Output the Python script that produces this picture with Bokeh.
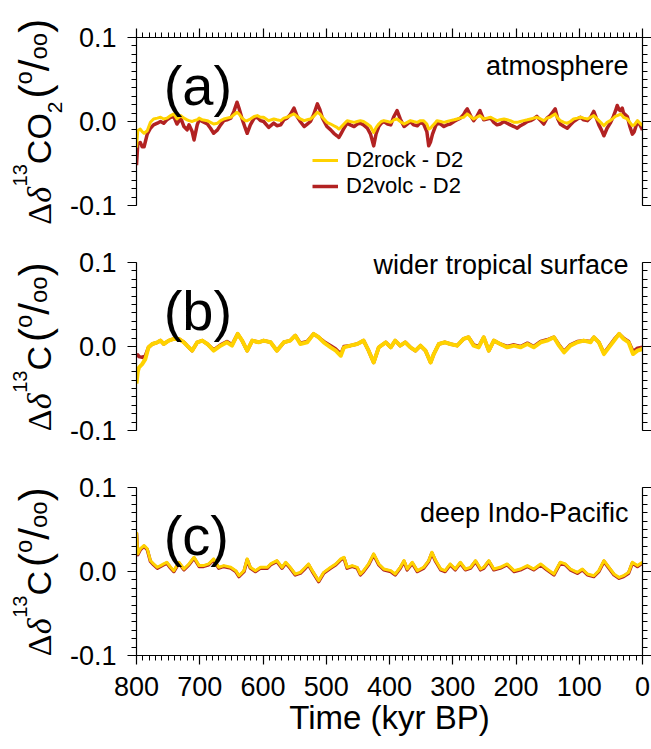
import math
from bokeh.plotting import figure
from bokeh.models import (Range1d, LinearAxis, FixedTicker, Label, Legend, LegendItem,
                          CustomJSTickFormatter, PrintfTickFormatter)
from bokeh.layouts import column, row
from bokeh.core.properties import value
from bokeh.embed import file_html
from bokeh.resources import INLINE

# ---------------- data ----------------
time_a = [800, 798, 794, 791, 788, 783, 778, 773, 767, 762,
          757, 752, 746, 741, 736, 730, 725, 720, 717, 712,
          709, 704, 701, 696, 688, 683, 678, 672, 667, 662,
          657, 651, 646, 641, 638, 633, 628, 625, 620, 614,
          609, 604, 599, 591, 583, 578, 572, 567, 562, 557,
          551, 546, 541, 535, 530, 525, 520, 514, 510, 506,
          499, 493, 488, 483, 480, 477, 472, 467, 462, 456,
          451, 446, 441, 435, 430, 425, 421, 417, 413, 409,
          403, 398, 393, 388, 383, 377, 372, 367, 362, 356,
          351, 346, 341, 338, 335, 332, 328, 325, 319, 314,
          309, 304, 298, 293, 288, 283, 280, 277, 272, 267,
          262, 257, 251, 246, 240, 235, 230, 225, 219, 214,
          209, 203, 198, 193, 188, 182, 177, 172, 167, 161,
          156, 151, 146, 142, 138, 134, 130, 124, 119, 114,
          109, 103, 98, 93, 87, 82, 77, 73, 69, 65,
          61, 56, 51, 46, 43, 40, 37, 35, 32, 30,
          24, 20, 16, 13, 8, 4, 0]
rock_a = [-0.031, -0.011, -0.009, -0.012, -0.014, -0.011, -0.001, 0.003, 0.004, 0.005,
          0.003, 0.004, 0.007, 0.009, 0.003, 0.007, 0.004, 0.002, 0.001, 0.000,
          0.001, 0.002, 0.004, 0.002, 0.001, -0.001, -0.003, -0.002, 0.001, 0.003,
          0.004, 0.005, 0.008, 0.011, 0.009, 0.004, 0.001, 0.001, 0.003, 0.006,
          0.007, 0.005, 0.005, 0.001, 0.003, 0.002, 0.001, 0.004, 0.005, 0.007,
          0.009, 0.006, 0.003, 0.001, 0.002, 0.003, 0.006, 0.011, 0.009, 0.005,
          -0.001, -0.003, -0.005, -0.007, -0.009, -0.007, -0.003, 0.001, 0.000, -0.001,
          0.000, 0.001, 0.000, -0.003, -0.006, -0.013, -0.007, -0.003, 0.000, 0.001,
          0.000, -0.001, 0.002, 0.003, 0.000, -0.003, -0.001, 0.001, 0.000, -0.001,
          0.001, 0.001, -0.003, -0.009, -0.008, -0.005, -0.002, 0.001, 0.000, -0.001,
          0.000, 0.001, 0.002, 0.003, 0.004, 0.005, 0.007, 0.009, 0.006, 0.003,
          0.005, 0.007, 0.003, 0.004, 0.005, 0.003, 0.001, 0.002, 0.003, 0.002,
          0.001, -0.001, -0.001, 0.000, 0.001, 0.002, 0.003, 0.004, 0.005, 0.003,
          0.001, 0.004, 0.005, 0.007, 0.009, 0.004, 0.001, -0.001, -0.002, 0.000,
          0.003, 0.004, 0.005, 0.004, 0.003, 0.005, 0.007, 0.004, 0.001, -0.002,
          -0.005, -0.001, 0.001, 0.004, 0.006, 0.007, 0.008, 0.009, 0.007, 0.005,
          0.003, -0.001, -0.005, -0.004, 0.001, -0.002, -0.005]
volc_a = [-0.052, -0.027, -0.025, -0.030, -0.030, -0.015, -0.008, -0.004, -0.002, 0.000,
          -0.002, 0.002, 0.005, 0.006, -0.003, 0.004, -0.006, -0.010, -0.004, -0.012,
          -0.022, -0.004, 0.002, 0.000, -0.003, -0.008, -0.014, -0.010, -0.004, 0.001,
          0.002, 0.004, 0.012, 0.023, 0.016, 0.003, -0.008, -0.014, -0.004, 0.004,
          0.005, 0.001, 0.000, -0.007, -0.002, -0.005, -0.004, 0.002, 0.004, 0.008,
          0.016, 0.006, 0.000, -0.006, -0.003, 0.000, 0.008, 0.021, 0.014, 0.004,
          -0.006, -0.010, -0.014, -0.017, -0.019, -0.015, -0.008, -0.002, -0.004, -0.006,
          -0.003, -0.002, -0.004, -0.008, -0.015, -0.029, -0.014, -0.006, -0.002, 0.000,
          -0.003, -0.004, 0.006, 0.013, 0.003, -0.006, -0.003, 0.000, -0.004, -0.005,
          -0.001, -0.003, -0.012, -0.029, -0.024, -0.015, -0.007, -0.002, -0.003, -0.006,
          -0.004, -0.003, 0.000, 0.002, 0.004, 0.008, 0.012, 0.015, 0.007, 0.001,
          0.006, 0.013, 0.002, 0.003, 0.004, -0.001, -0.004, -0.003, 0.000, -0.002,
          -0.004, -0.006, -0.008, -0.005, -0.003, 0.000, 0.001, 0.003, 0.006, 0.001,
          -0.003, 0.004, 0.007, 0.011, 0.015, 0.003, -0.003, -0.006, -0.008, -0.004,
          0.000, 0.003, 0.005, 0.002, 0.001, 0.005, 0.012, 0.004, -0.004, -0.010,
          -0.017, -0.008, -0.002, 0.006, 0.012, 0.019, 0.014, 0.013, 0.016, 0.010,
          0.006, -0.006, -0.015, -0.012, 0.000, -0.004, -0.010]

time_b = [800, 798, 796, 791, 786, 781, 775, 767, 762, 757,
          749, 741, 733, 725, 720, 712, 704, 696, 688, 678,
          667, 657, 649, 640, 633, 625, 617, 607, 599, 588,
          578, 567, 557, 549, 541, 530, 520, 512, 504, 493,
          485, 477, 472, 462, 451, 441, 433, 425, 417, 406,
          398, 391, 383, 375, 367, 359, 351, 343, 335, 330,
          322, 312, 304, 293, 283, 275, 267, 259, 251, 243,
          235, 225, 214, 203, 193, 182, 172, 161, 151, 140,
          132, 124, 114, 103, 93, 82, 77, 69, 61, 53,
          43, 37, 30, 22, 15, 8, 0]
rock_b = [-0.044, -0.030, -0.025, -0.021, -0.015, -0.001, 0.003, 0.005, 0.007, 0.003,
          0.007, 0.009, 0.009, 0.005, 0.001, -0.005, 0.005, 0.007, 0.003, -0.005,
          0.001, 0.005, 0.001, 0.015, 0.007, -0.005, 0.007, 0.005, 0.007, 0.005,
          -0.005, 0.005, 0.007, 0.013, 0.003, 0.005, 0.015, 0.011, 0.005, -0.001,
          -0.005, -0.011, -0.001, 0.001, 0.003, 0.007, -0.005, -0.019, -0.001, 0.005,
          -0.001, 0.007, 0.001, 0.005, -0.001, -0.005, 0.001, -0.005, -0.019, -0.009,
          0.003, 0.005, 0.003, 0.001, 0.009, 0.011, 0.001, -0.001, 0.011, -0.005,
          0.007, 0.003, -0.001, 0.001, -0.001, 0.003, -0.001, 0.005, 0.007, 0.011,
          0.001, -0.007, 0.001, 0.005, 0.007, 0.005, 0.011, 0.005, -0.009, -0.001,
          0.009, 0.015, 0.009, 0.005, -0.009, -0.005, -0.003]
volc_b = [-0.011, -0.010, -0.012, -0.013, -0.011, -0.001, 0.003, 0.005, 0.007, 0.003,
          0.007, 0.009, 0.009, 0.005, 0.001, -0.005, 0.005, 0.007, 0.003, -0.004,
          0.002, 0.006, 0.002, 0.015, 0.007, -0.005, 0.007, 0.005, 0.007, 0.005,
          -0.005, 0.005, 0.007, 0.013, 0.004, 0.006, 0.015, 0.011, 0.006, 0.001,
          -0.003, -0.009, 0.000, 0.001, 0.003, 0.007, -0.005, -0.019, -0.001, 0.005,
          -0.001, 0.007, 0.001, 0.005, -0.001, -0.005, 0.001, -0.005, -0.019, -0.009,
          0.003, 0.005, 0.003, 0.001, 0.009, 0.011, 0.002, 0.000, 0.011, -0.005,
          0.007, 0.003, 0.000, 0.002, 0.000, 0.004, 0.000, 0.006, 0.008, 0.011,
          0.002, -0.006, 0.002, 0.006, 0.007, 0.006, 0.011, 0.005, -0.008, 0.000,
          0.010, 0.015, 0.010, 0.006, -0.006, -0.002, -0.001]

time_c = [800, 798, 794, 788, 783, 778, 773, 767, 762, 757,
          752, 746, 741, 733, 725, 717, 709, 701, 694, 686,
          678, 670, 662, 651, 643, 638, 630, 625, 620, 612,
          604, 593, 588, 578, 570, 564, 557, 549, 541, 533,
          528, 522, 517, 512, 504, 493, 485, 477, 472, 467,
          459, 451, 446, 441, 433, 425, 417, 409, 398, 391,
          383, 377, 372, 364, 356, 346, 338, 333, 327, 319,
          312, 304, 296, 288, 280, 272, 264, 256, 251, 243,
          235, 225, 214, 203, 193, 182, 172, 161, 151, 140,
          130, 122, 114, 103, 95, 87, 77, 69, 61, 53,
          45, 37, 30, 22, 16, 8, 0]
rock_c = [0.047, 0.021, 0.027, 0.031, 0.027, 0.013, 0.009, 0.005, 0.007, 0.009,
          0.011, 0.005, 0.001, 0.011, 0.003, 0.009, 0.017, 0.007, 0.007, 0.009,
          0.015, 0.005, 0.007, 0.005, 0.001, -0.005, 0.001, 0.015, 0.005, 0.001,
          0.005, 0.005, 0.009, 0.013, 0.005, 0.011, 0.005, -0.003, -0.001, 0.005,
          0.009, 0.001, -0.005, -0.011, -0.001, 0.005, 0.009, 0.015, 0.017, 0.005,
          0.007, 0.005, -0.003, 0.001, 0.009, 0.021, 0.009, 0.003, 0.001, -0.003,
          0.005, 0.013, 0.003, 0.011, 0.001, 0.005, 0.013, 0.023, 0.013, 0.003,
          0.001, 0.009, 0.003, 0.011, 0.003, 0.005, 0.013, 0.003, 0.005, 0.013,
          0.003, 0.005, 0.009, 0.001, 0.003, 0.007, 0.003, 0.009, 0.003, -0.003,
          0.011, 0.009, 0.003, -0.001, 0.003, -0.003, -0.005, 0.001, 0.013, 0.005,
          -0.003, -0.007, -0.005, -0.001, 0.011, 0.007, 0.011]
volc_c = [0.046, 0.020, 0.026, 0.030, 0.026, 0.012, 0.008, 0.004, 0.006, 0.008,
          0.010, 0.004, 0.000, 0.010, 0.002, 0.008, 0.016, 0.006, 0.006, 0.008,
          0.014, 0.004, 0.006, 0.004, 0.000, -0.006, 0.000, 0.014, 0.004, 0.000,
          0.004, 0.004, 0.008, 0.012, 0.004, 0.010, 0.004, -0.004, -0.002, 0.004,
          0.008, 0.000, -0.006, -0.012, -0.002, 0.004, 0.008, 0.014, 0.016, 0.004,
          0.006, 0.004, -0.004, 0.000, 0.008, 0.020, 0.008, 0.002, 0.000, -0.004,
          0.004, 0.012, 0.002, 0.010, 0.000, 0.004, 0.012, 0.022, 0.012, 0.002,
          0.000, 0.008, 0.002, 0.010, 0.002, 0.004, 0.012, 0.002, 0.004, 0.012,
          0.002, 0.004, 0.008, 0.000, 0.002, 0.006, 0.002, 0.008, 0.002, -0.004,
          0.010, 0.008, 0.002, -0.002, 0.002, -0.004, -0.006, 0.000, 0.012, 0.004,
          -0.004, -0.008, -0.006, -0.002, 0.010, 0.006, 0.010]

series_names = ["D2rock - D2", "D2volc - D2"]
panel_titles = ["atmosphere", "wider tropical surface", "deep Indo-Pacific"]
panel_tags = ["(a)", "(b)", "(c)"]
x_major = [800, 700, 600, 500, 400, 300, 200, 100, 0]
x_minor = list(range(0, 801, 10))
y_major = [-0.1, 0.0, 0.1]
y_minor = [round(-0.1 + 0.01 * i, 2) for i in range(21)]
x_title = "Time (kyr BP)"

# ---------------- style ----------------
FONT = "Liberation Sans"
SERIF = "Liberation Serif"
ROCK_COLOR = "#FFD200"
VOLC_COLOR = "#B22222"
FRAME_W, FRAME_H = 506, 168
PX = 0.2 / FRAME_H    # data units per pixel on the y axis
LABEL_W = 66          # strip holding the rotated y titles
LEFT, RIGHT = 70, 9   # borders of the panel figures
MID = 0.36            # distance of the text middle above the baseline (em)


def style_axis(ax, labels):
    ax.axis_line_color = "black"
    ax.axis_line_width = 1.2
    ax.major_tick_line_color = "black"
    ax.minor_tick_line_color = "black"
    ax.major_tick_line_width = 1.2
    ax.minor_tick_line_width = 1
    ax.major_tick_in = 0
    ax.major_tick_out = 9
    ax.minor_tick_in = 0
    ax.minor_tick_out = 5
    ax.major_label_text_font = FONT
    ax.major_label_text_font_size = "27px"
    ax.major_label_text_color = "black"
    if not labels:
        ax.formatter = CustomJSTickFormatter(code="return ''")
        ax.major_label_standoff = 0


def make_panel(top, bottom, has_top, has_bottom, extra_top=0):
    # extra_top: pixels of frame kept above the 0.1 line (room for a title)
    p = figure(frame_width=FRAME_W, frame_height=FRAME_H + extra_top,
               width=LEFT + FRAME_W + RIGHT, height=top + FRAME_H + extra_top + bottom,
               x_range=Range1d(800, 0), y_range=Range1d(-0.1, 0.1 + extra_top * PX),
               x_axis_location=None, y_axis_location=None,
               output_backend="svg", toolbar_location=None,
               min_border_left=LEFT, min_border_right=RIGHT,
               min_border_top=top, min_border_bottom=bottom)
    p.outline_line_color = None
    p.xgrid.visible = False
    p.ygrid.visible = False
    p.background_fill_color = "white"
    p.border_fill_color = "white"
    yl = LinearAxis(ticker=FixedTicker(ticks=y_major, minor_ticks=y_minor),
                    formatter=PrintfTickFormatter(format="%.1f"), bounds=(-0.1, 0.1))
    style_axis(yl, True)
    yl.major_label_standoff = 11
    p.add_layout(yl, "left")
    yr = LinearAxis(ticker=FixedTicker(ticks=y_major, minor_ticks=y_minor), bounds=(-0.1, 0.1))
    style_axis(yr, False)
    p.add_layout(yr, "right")
    if has_top:
        xt = LinearAxis(ticker=FixedTicker(ticks=x_major, minor_ticks=x_minor))
        style_axis(xt, False)
        p.add_layout(xt, "above")
    if has_bottom:
        xb = LinearAxis(ticker=FixedTicker(ticks=x_major, minor_ticks=x_minor),
                        formatter=PrintfTickFormatter(format="%d"))
        style_axis(xb, True)
        xb.major_label_standoff = 12
        xb.axis_label = x_title
        xb.axis_label_text_font = FONT
        xb.axis_label_text_font_size = "33px"
        xb.axis_label_text_font_style = "normal"
        xb.axis_label_text_color = "black"
        xb.axis_label_standoff = 0
        p.add_layout(xb, "below")
    return p


WID = {"Δ": 0.612, "δ": 0.5, "C": 0.722, "O": 0.778, " ": 0.278, "(": 0.333,
       ")": 0.333, "/": 0.278, "o": 0.556, "1": 0.556, "3": 0.556, "2": 0.556}


def make_ylabel(height, center_from_top, parts, base_x=51):
    """parts: (text, font, style, size px, baseline raise px, gap after px)"""
    lf = figure(width=LABEL_W, height=height, x_range=Range1d(0, LABEL_W),
                y_range=Range1d(0, height), x_axis_location=None, y_axis_location=None,
                min_border=0, output_backend="svg", toolbar_location=None)
    if "frame_align" in lf.properties():
        lf.frame_align = False     # keep this strip's frame = whole strip
    lf.outline_line_color = None
    lf.xgrid.visible = False
    lf.ygrid.visible = False
    lf.background_fill_color = "white"
    lf.border_fill_color = "white"
    widths = [sum(WID[ch] for ch in t) * size + gap for t, f, s, size, r, gap in parts]
    d = (height - center_from_top) - sum(widths) / 2
    for (text, font, style, size, raise_px, gap), w in zip(parts, widths):
        # centre/middle anchoring: each piece is rotated about its own centre
        cx = base_x - raise_px - MID * size
        cy = d + (w - gap) / 2
        lf.text(x=[cx], y=[cy], text=[text], angle=math.pi / 2,
                text_font=value(font), text_font_style=style,
                text_font_size=f"{size}px", text_color="black",
                text_align="center", text_baseline="middle")
        d += w
    return lf


def add_texts(p, title, tag, title_y):
    p.add_layout(Label(x=22, y=title_y, text=title, text_font=FONT,
                       text_font_size="27px", text_color="black",
                       text_align="right", text_baseline="middle"))
    p.add_layout(Label(x=757, y=0.043, text=tag, text_font=FONT,
                       text_font_size="56px", text_color="black",
                       text_align="left", text_baseline="middle"))


unit_part = [("(", FONT, "normal", 42, 2, 0), ("o", FONT, "normal", 24, 19, 0),
             ("/", FONT, "normal", 42, 2, 0), ("oo", FONT, "normal", 24, 4, 0),
             (")", FONT, "normal", 42, 2, 0)]
label_co2 = [("Δ", SERIF, "normal", 34, 0, 0), ("δ", SERIF, "italic", 34, 0, 0),
             ("13", FONT, "normal", 20, 24, 0), ("CO", FONT, "normal", 34, 0, 0),
             ("2", FONT, "normal", 21, -11, 3)] + unit_part
label_c = [("Δ", SERIF, "normal", 34, 0, 0), ("δ", SERIF, "italic", 34, 0, 0),
           ("13", FONT, "normal", 20, 24, 0), ("C", FONT, "normal", 34, 0, 4)] + unit_part

# panel (a)
HA, HB, HC = 37 + FRAME_H + 28, 29 + FRAME_H + 28, 29 + FRAME_H + 94
pa = make_panel(37, 28, True, False)
rv = pa.line(time_a, volc_a, line_color=VOLC_COLOR, line_width=3.5, line_join="round")
rr = pa.line(time_a, rock_a, line_color=ROCK_COLOR, line_width=3, line_join="round")
add_texts(pa, panel_titles[0], panel_tags[0], 0.066)
leg = Legend(items=[LegendItem(label=series_names[0], renderers=[rr]),
                    LegendItem(label=series_names[1], renderers=[rv])],
             location=(176, 6), orientation="vertical",
             border_line_color=None, background_fill_alpha=0,
             label_text_font=FONT, label_text_font_size="22px", label_text_color="black",
             glyph_width=26, glyph_height=24, label_height=24,
             label_standoff=8, spacing=0, padding=0, margin=0)
pa.add_layout(leg, "center")
la = make_ylabel(HA, 37 + FRAME_H / 2, label_co2)

# panel (b): frame reaches 29 px above the 0.1 line so its title is not clipped
pb = make_panel(0, 28, False, False, extra_top=29)
pb.line(time_b, volc_b, line_color=VOLC_COLOR, line_width=3.5, line_join="round")
pb.line(time_b, rock_b, line_color=ROCK_COLOR, line_width=4, line_join="round")
add_texts(pb, panel_titles[1], panel_tags[1], 0.097)
lb = make_ylabel(HB, 29 + FRAME_H / 2, label_c)

# panel (c)
pc = make_panel(29, 94, False, True)
pc.line(time_c, volc_c, line_color=VOLC_COLOR, line_width=3.5, line_join="round")
pc.line(time_c, rock_c, line_color=ROCK_COLOR, line_width=3, line_join="round")
add_texts(pc, panel_titles[2], panel_tags[2], 0.0696)
lc = make_ylabel(HC, 29 + FRAME_H / 2, label_c)

layout = column(row(la, pa, spacing=0), row(lb, pb, spacing=0), row(lc, pc, spacing=0),
                spacing=0)
open("out.html", "w").write(file_html(layout, INLINE))
